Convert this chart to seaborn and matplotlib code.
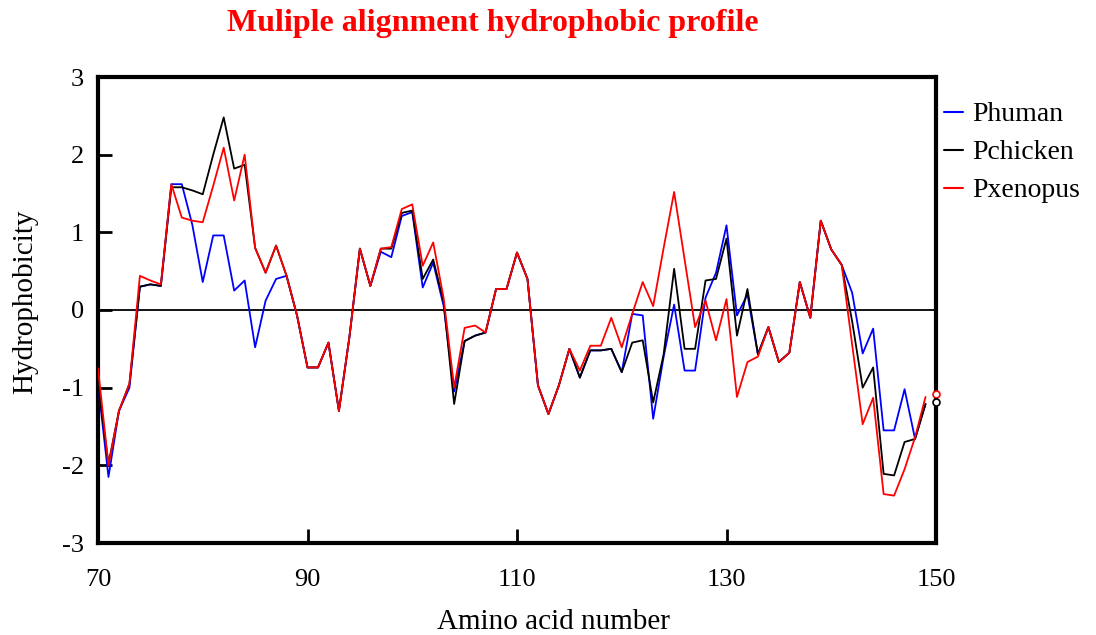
import numpy as np
import pandas as pd
import matplotlib
matplotlib.use("Agg")
import matplotlib.pyplot as plt
import seaborn as sns
from matplotlib.lines import Line2D

# ---- data ----
amino_acids = list(range(70, 150))  # residues 70..149 drawn as lines

phuman = [-0.95, -2.15, -1.3, -1.0, 0.3, 0.33, 0.31, 1.62, 1.62, 1.1,
          0.36, 0.96, 0.96, 0.25, 0.38, -0.48, 0.12, 0.4, 0.44, -0.07,
          -0.74, -0.74, -0.42, -1.3, -0.35, 0.79, 0.31, 0.75, 0.68, 1.21,
          1.26, 0.29, 0.61, 0.05, -1.05, -0.4, -0.33, -0.29, 0.27, 0.27,
          0.74, 0.4, -0.97, -1.34, -0.97, -0.5, -0.87, -0.52, -0.52, -0.5,
          -0.8, -0.05, -0.07, -1.4, -0.6, 0.07, -0.78, -0.78, 0.16, 0.48,
          1.09, -0.07, 0.2, -0.57, -0.22, -0.67, -0.55, 0.36, -0.1, 1.15,
          0.78, 0.58, 0.22, -0.56, -0.24, -1.55, -1.55, -1.02, -1.66, -1.21]

pchicken = [-0.95, -1.98, -1.3, -0.95, 0.3, 0.33, 0.31, 1.58, 1.58, 1.54,
            1.49, 2.0, 2.48, 1.82, 1.87, 0.8, 0.48, 0.83, 0.44, -0.07,
            -0.74, -0.74, -0.42, -1.3, -0.35, 0.79, 0.31, 0.79, 0.79, 1.25,
            1.28, 0.4, 0.65, 0.1, -1.21, -0.4, -0.33, -0.29, 0.27, 0.27,
            0.74, 0.4, -0.97, -1.34, -0.97, -0.5, -0.87, -0.52, -0.52, -0.5,
            -0.8, -0.42, -0.39, -1.19, -0.57, 0.53, -0.5, -0.5, 0.38, 0.4,
            0.92, -0.33, 0.27, -0.57, -0.22, -0.67, -0.55, 0.36, -0.1, 1.15,
            0.78, 0.58, -0.15, -1.0, -0.74, -2.11, -2.13, -1.7, -1.66, -1.21]

pxenopus = [-0.75, -2.0, -1.3, -0.95, 0.44, 0.38, 0.33, 1.62, 1.19, 1.15,
            1.13, 1.6, 2.09, 1.41, 2.0, 0.8, 0.48, 0.83, 0.44, -0.07,
            -0.74, -0.74, -0.42, -1.3, -0.35, 0.79, 0.31, 0.79, 0.81, 1.3,
            1.36, 0.57, 0.87, 0.15, -1.0, -0.23, -0.2, -0.29, 0.27, 0.27,
            0.74, 0.4, -0.97, -1.34, -0.97, -0.5, -0.78, -0.46, -0.46, -0.1,
            -0.48, -0.05, 0.36, 0.05, 0.8, 1.52, 0.65, -0.22, 0.12, -0.39,
            0.14, -1.12, -0.67, -0.6, -0.22, -0.67, -0.55, 0.36, -0.1, 1.15,
            0.78, 0.58, -0.45, -1.47, -1.13, -2.37, -2.39, -2.05, -1.64, -1.12]

# last residue (150) shown only as open circles
end_residue = [150, 150]
end_series = ["Pxenopus", "Pchicken"]
end_values = [-1.08, -1.19]

series_names = ["Phuman", "Pchicken", "Pxenopus"]
series_colors = ["#0000ff", "#000000", "#ff0000"]
x_ticks = [70, 90, 110, 130, 150]
y_ticks = [-3, -2, -1, 0, 1, 2, 3]

df = pd.DataFrame({
    "aa": amino_acids * 3,
    "h": phuman + pchicken + pxenopus,
    "series": [s for s in series_names for _ in amino_acids],
})

# ---- plot ----
sns.set_theme(style="white")
plt.rcParams["font.family"] = ["Liberation Serif", "DejaVu Serif"]
plt.rcParams["axes.unicode_minus"] = False
plt.rcParams["text.color"] = "black"
plt.rcParams["axes.labelcolor"] = "black"
plt.rcParams["xtick.color"] = "black"
plt.rcParams["ytick.color"] = "black"

fig = plt.figure(figsize=(10.96, 6.35), dpi=100)
ax = fig.add_axes([98 / 1096, 1 - 543 / 635, (936 - 98) / 1096, (543 - 77) / 635])

ax.axhline(0, color="black", lw=1.3, zorder=1)
pal = dict(zip(series_names, series_colors))
sns.lineplot(data=df, x="aa", y="h", hue="series", hue_order=series_names,
             palette=pal, estimator=None, sort=False, lw=1.3, ax=ax,
             legend=False, zorder=3)

end_df = pd.DataFrame({"aa": end_residue, "h": end_values, "series": end_series})
for _, r in end_df.iterrows():
    ax.plot(r["aa"], r["h"], marker="o", ms=5, mfc="white",
            mec=pal[r["series"]], mew=1.2, clip_on=False, zorder=5)

ax.set_xlim(70, 150)
ax.set_ylim(-3, 3)
ax.set_xticks(x_ticks)
ax.set_yticks(y_ticks)
ax.tick_params(axis="both", direction="in", length=10, width=2, color="black",
               labelcolor="black", labelsize=19,
               bottom=True, left=True, top=False, right=False)
ax.tick_params(axis="x", pad=19)
ax.tick_params(axis="y", pad=10)
for sp in ax.spines.values():
    sp.set_linewidth(3)
    sp.set_color("black")

ax.set_xlabel("Amino acid number", fontsize=21, color="black")
ax.set_ylabel("Hydrophobicity", fontsize=21, color="black")
ax.xaxis.set_label_coords((553 - 98) / 838, -(620 - 543) / 466 - 0.005)
ax.xaxis.label.set_va("center")
ax.yaxis.set_label_coords(-(98 - 25) / 838, (543 - 302) / 466)
ax.yaxis.label.set_va("center")

fig.text(493 / 1096, 1 - 24 / 635, "Muliple alignment hydrophobic profile",
         color="#ff0000", fontsize=23, fontweight="bold", ha="center", va="center")

handles = [Line2D([0], [0], color=c, lw=1.5) for c in series_colors]
fig.legend(handles, series_names, loc="upper left",
           bbox_to_anchor=(944 / 1096, 1 - 102 / 635), frameon=False,
           fontsize=20, handlelength=0.7, handletextpad=0.3, labelspacing=0.45,
           borderaxespad=0, borderpad=0, labelcolor="black")

fig.savefig("out.png", dpi=100)
